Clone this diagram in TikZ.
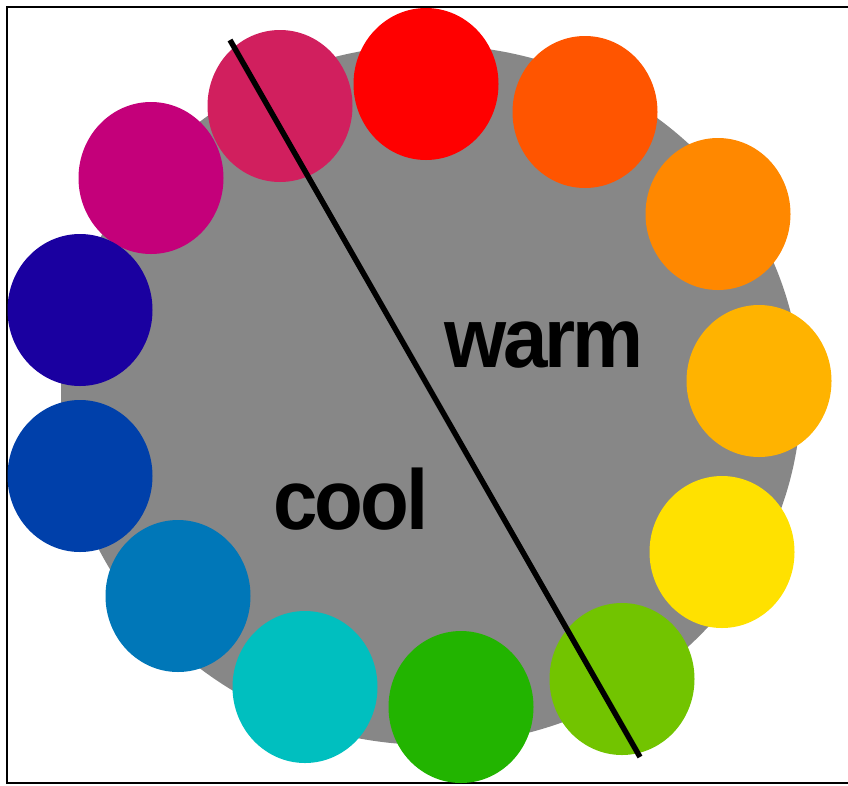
\documentclass[tikz,border=0pt]{standalone}
\usepackage{fontspec}
\setmainfont{Liberation Sans}
\newfontfamily\tightbold[LetterSpace=-4]{Liberation Sans Bold}
\usetikzlibrary{shapes.geometric}
\definecolor{wheelgray}{HTML}{878787}
\definecolor{cCrimson}{HTML}{D11F5E}
\definecolor{cMagenta}{HTML}{C4007A}
\definecolor{cIndigo}{HTML}{1A00A0}
\definecolor{cRoyal}{HTML}{0040AA}
\definecolor{cBlue}{HTML}{0077B8}
\definecolor{cCyan}{HTML}{00BFBF}
\definecolor{cGreen}{HTML}{22B400}
\definecolor{cLime}{HTML}{72C400}
\definecolor{cYellow}{HTML}{FFE100}
\definecolor{cAmber}{HTML}{FFB300}
\definecolor{cOrange}{HTML}{FF8800}
\definecolor{cOrangeRed}{HTML}{FF5500}
\definecolor{cRed}{HTML}{FF0000}
\tikzset{
  swatch/.style={ellipse, minimum width=145pt, minimum height=152pt, inner sep=0pt, draw=none, fill=#1},
  label/.style={font=\tightbold\fontsize{85}{85}\selectfont, inner sep=0pt, anchor=base},
  divider/.style={line width=5.5pt, black}
}
\begin{document}
\begin{tikzpicture}[x=1pt,y=-1pt]
\useasboundingbox (0,0) rectangle (848,785);
\fill[white] (0,0) rectangle (848,785);
% frame
\draw[line width=2pt] (848,7) -- (7,7) -- (7,783) -- (848,783);
% gray wheel
\node[ellipse, fill=wheelgray, minimum width=740pt, minimum height=700pt, inner sep=0pt] (wheel) at (431,395) {};
% swatches
\node[swatch=cMagenta]   (magenta)   at (151,178) {};
\node[swatch=cCrimson]   (crimson)   at (280,106) {};
\node[swatch=cRed]       (red)       at (426,84)  {};
\node[swatch=cOrangeRed] (orangered) at (585,112) {};
\node[swatch=cOrange]    (orange)    at (718,214) {};
\node[swatch=cAmber]     (amber)     at (759,381) {};
\node[swatch=cYellow]    (yellow)    at (722,552) {};
\node[swatch=cLime]      (lime)      at (622,679) {};
\node[swatch=cGreen]     (green)     at (461,707) {};
\node[swatch=cCyan]      (cyan)      at (305,687) {};
\node[swatch=cBlue]      (blue)      at (178,596) {};
\node[swatch=cRoyal]     (royal)     at (80,476)  {};
\node[swatch=cIndigo]    (indigo)    at (80,310)  {};
% divider
\coordinate (dtop) at (230,40);
\coordinate (dbot) at (640,757);
\draw[divider] (dtop) -- (dbot);
% labels
\node[label] (warm) at (544,367) {\scalebox{0.94}[1]{warm}};
\node[label] (cool) at (351,529) {\scalebox{0.94}[1]{cool}};
\end{tikzpicture}
\end{document}
